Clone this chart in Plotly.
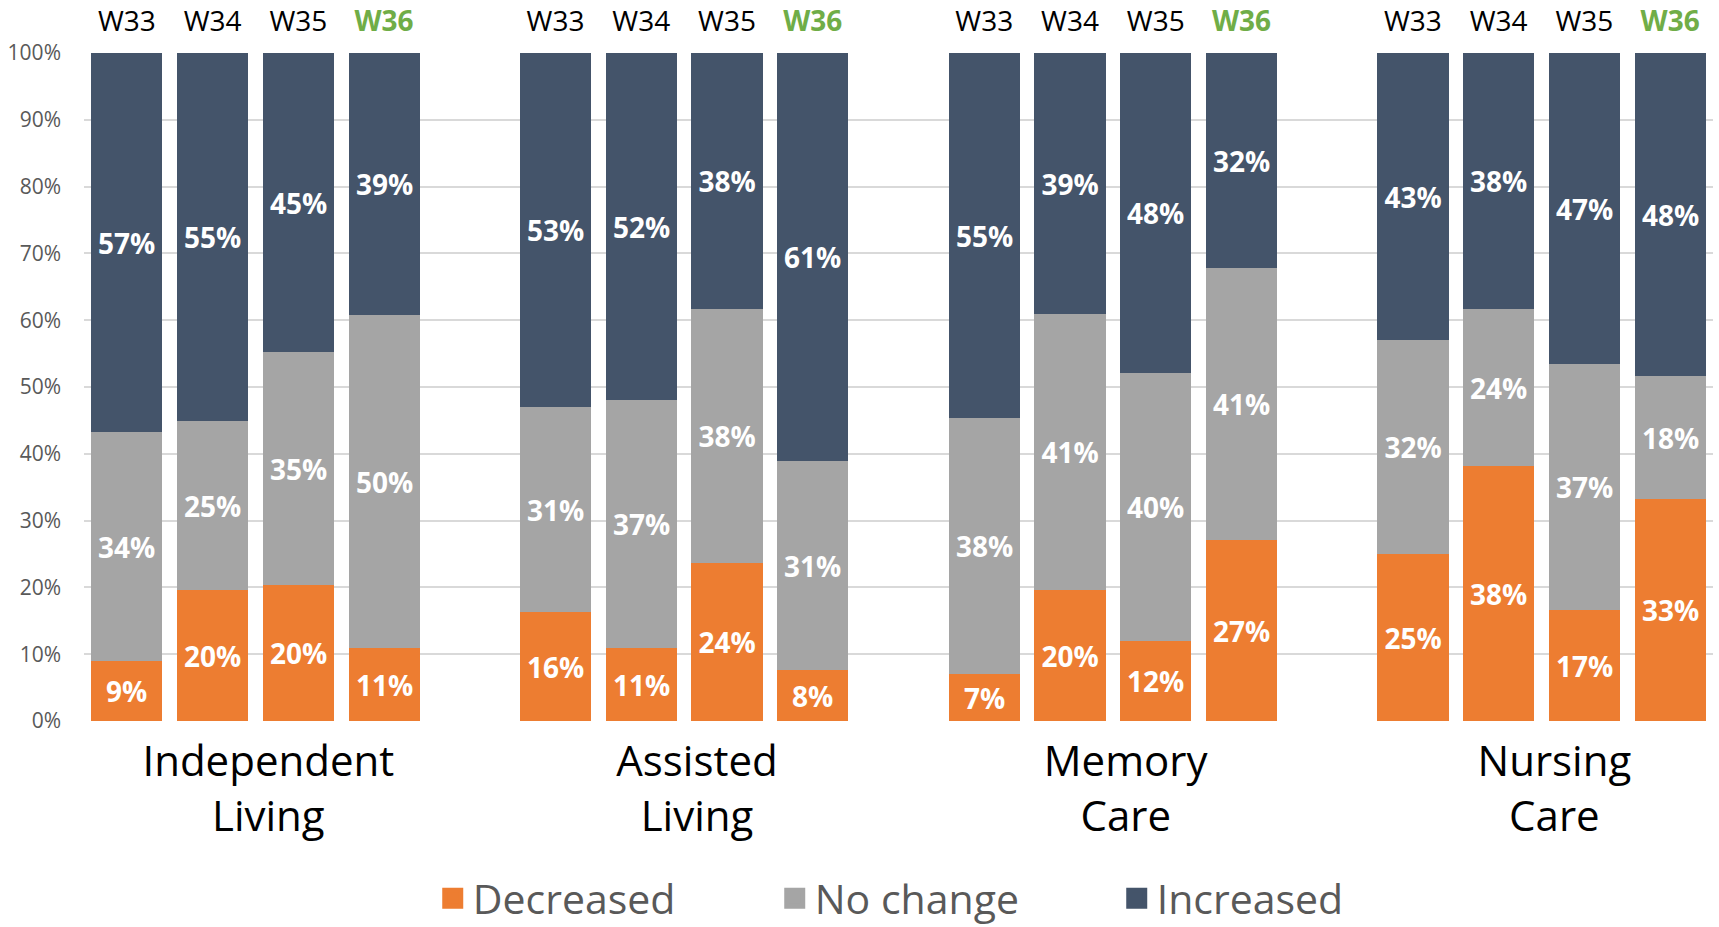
import plotly.graph_objects as go

groups = ["Independent<br>Living", "Assisted<br>Living", "Memory<br>Care", "Nursing<br>Care"]
weeks = ["W33", "W34", "W35", "W36"]

# fractions per group, per week (W33..W36)
decreased = [
    [0.090, 0.196, 0.204, 0.110],
    [0.163, 0.110, 0.236, 0.077],
    [0.071, 0.196, 0.120, 0.271],
    [0.250, 0.381, 0.166, 0.333],
]
no_change = [
    [0.342, 0.253, 0.348, 0.498],
    [0.307, 0.371, 0.381, 0.312],
    [0.382, 0.413, 0.401, 0.407],
    [0.321, 0.236, 0.368, 0.183],
]
increased = [
    [0.568, 0.551, 0.448, 0.392],
    [0.530, 0.519, 0.383, 0.611],
    [0.547, 0.391, 0.479, 0.322],
    [0.429, 0.383, 0.466, 0.484],
]

series = [
    ("Decreased", decreased, "#ED7D31"),
    ("No change", no_change, "#A5A5A5"),
    ("Increased", increased, "#44546A"),
]

FONT = "Open Sans"
slots_per_group = len(weeks) + 1
label_offset = 0.15  # group labels sit slightly right of the bar-group centre

xs = []
week_labels = []
for g in range(len(groups)):
    for w, wk in enumerate(weeks):
        xs.append(g * slots_per_group + w)
        if wk == weeks[-1]:
            week_labels.append(f"<span style='color:#70AD47'><b>{wk}</b></span>")
        else:
            week_labels.append(wk)

group_centers = [g * slots_per_group + (len(weeks) - 1) / 2 + label_offset
                 for g in range(len(groups))]
x_range = [-0.5, len(groups) * slots_per_group - 1 - 0.5]

fig = go.Figure()
for name, vals, color in series:
    flat = [v for row in vals for v in row]
    fig.add_trace(go.Bar(
        x=xs, y=flat, name=name, legendgroup=name, showlegend=False,
        marker=dict(color=color, line=dict(width=0)),
        width=0.83,
        texttemplate="%{y:.0%}",
        textposition="inside",
        insidetextanchor="middle",
        textangle=0,
        textfont=dict(family=FONT, size=28, color="white", weight="bold"),
        hoverinfo="skip",
    ))

# legend entries with larger square swatches
for name, vals, color in series:
    fig.add_trace(go.Scatter(
        x=[None], y=[None], name=name, legendgroup=name, mode="markers",
        marker=dict(symbol="square", size=16, color=color,
                    line=dict(color=color, width=5)),
        hoverinfo="skip",
    ))

# invisible trace that binds the top week axis
fig.add_trace(go.Scatter(
    x=xs, y=[None] * len(xs), xaxis="x2", yaxis="y",
    mode="markers", showlegend=False, hoverinfo="skip",
))

fig.update_layout(
    width=1719, height=927,
    barmode="stack",
    bargap=0,
    plot_bgcolor="white",
    paper_bgcolor="white",
    font=dict(family=FONT, color="#595959"),
    margin=dict(l=84, r=6, t=53, b=206, autoexpand=False),
    uniformtext=dict(minsize=28, mode="show"),
    xaxis=dict(
        range=x_range,
        tickmode="array", tickvals=group_centers, ticktext=groups,
        tickfont=dict(family=FONT, size=42, color="black"),
        showgrid=False, zeroline=False, showline=False, ticks="",
        ticklabelstandoff=12, automargin=False,
    ),
    xaxis2=dict(
        overlaying="x", side="top", anchor="y",
        range=x_range,
        tickmode="array", tickvals=xs, ticktext=week_labels,
        tickfont=dict(family=FONT, size=28, color="black"),
        showgrid=False, zeroline=False, showline=False, ticks="",
        ticklabelstandoff=15, automargin=False,
    ),
    yaxis=dict(
        range=[0, 1], dtick=0.1, tickformat=".0%",
        tickfont=dict(family=FONT, size=21, color="#595959"),
        showgrid=True, gridcolor="#D9D9D9", gridwidth=1.5,
        zeroline=False, showline=False, ticks="",
        ticklabelstandoff=22, automargin=False,
    ),
    legend=dict(
        orientation="h", x=0.529, xanchor="center", y=-0.266, yanchor="middle",
        font=dict(family=FONT, size=41, color="#595959"),
        entrywidth=297, entrywidthmode="pixels",
        traceorder="normal", itemsizing="trace",
    ),
)

fig.write_html("out.html", config={"displayModeBar": False},
               post_script="document.body.style.margin='0';")
